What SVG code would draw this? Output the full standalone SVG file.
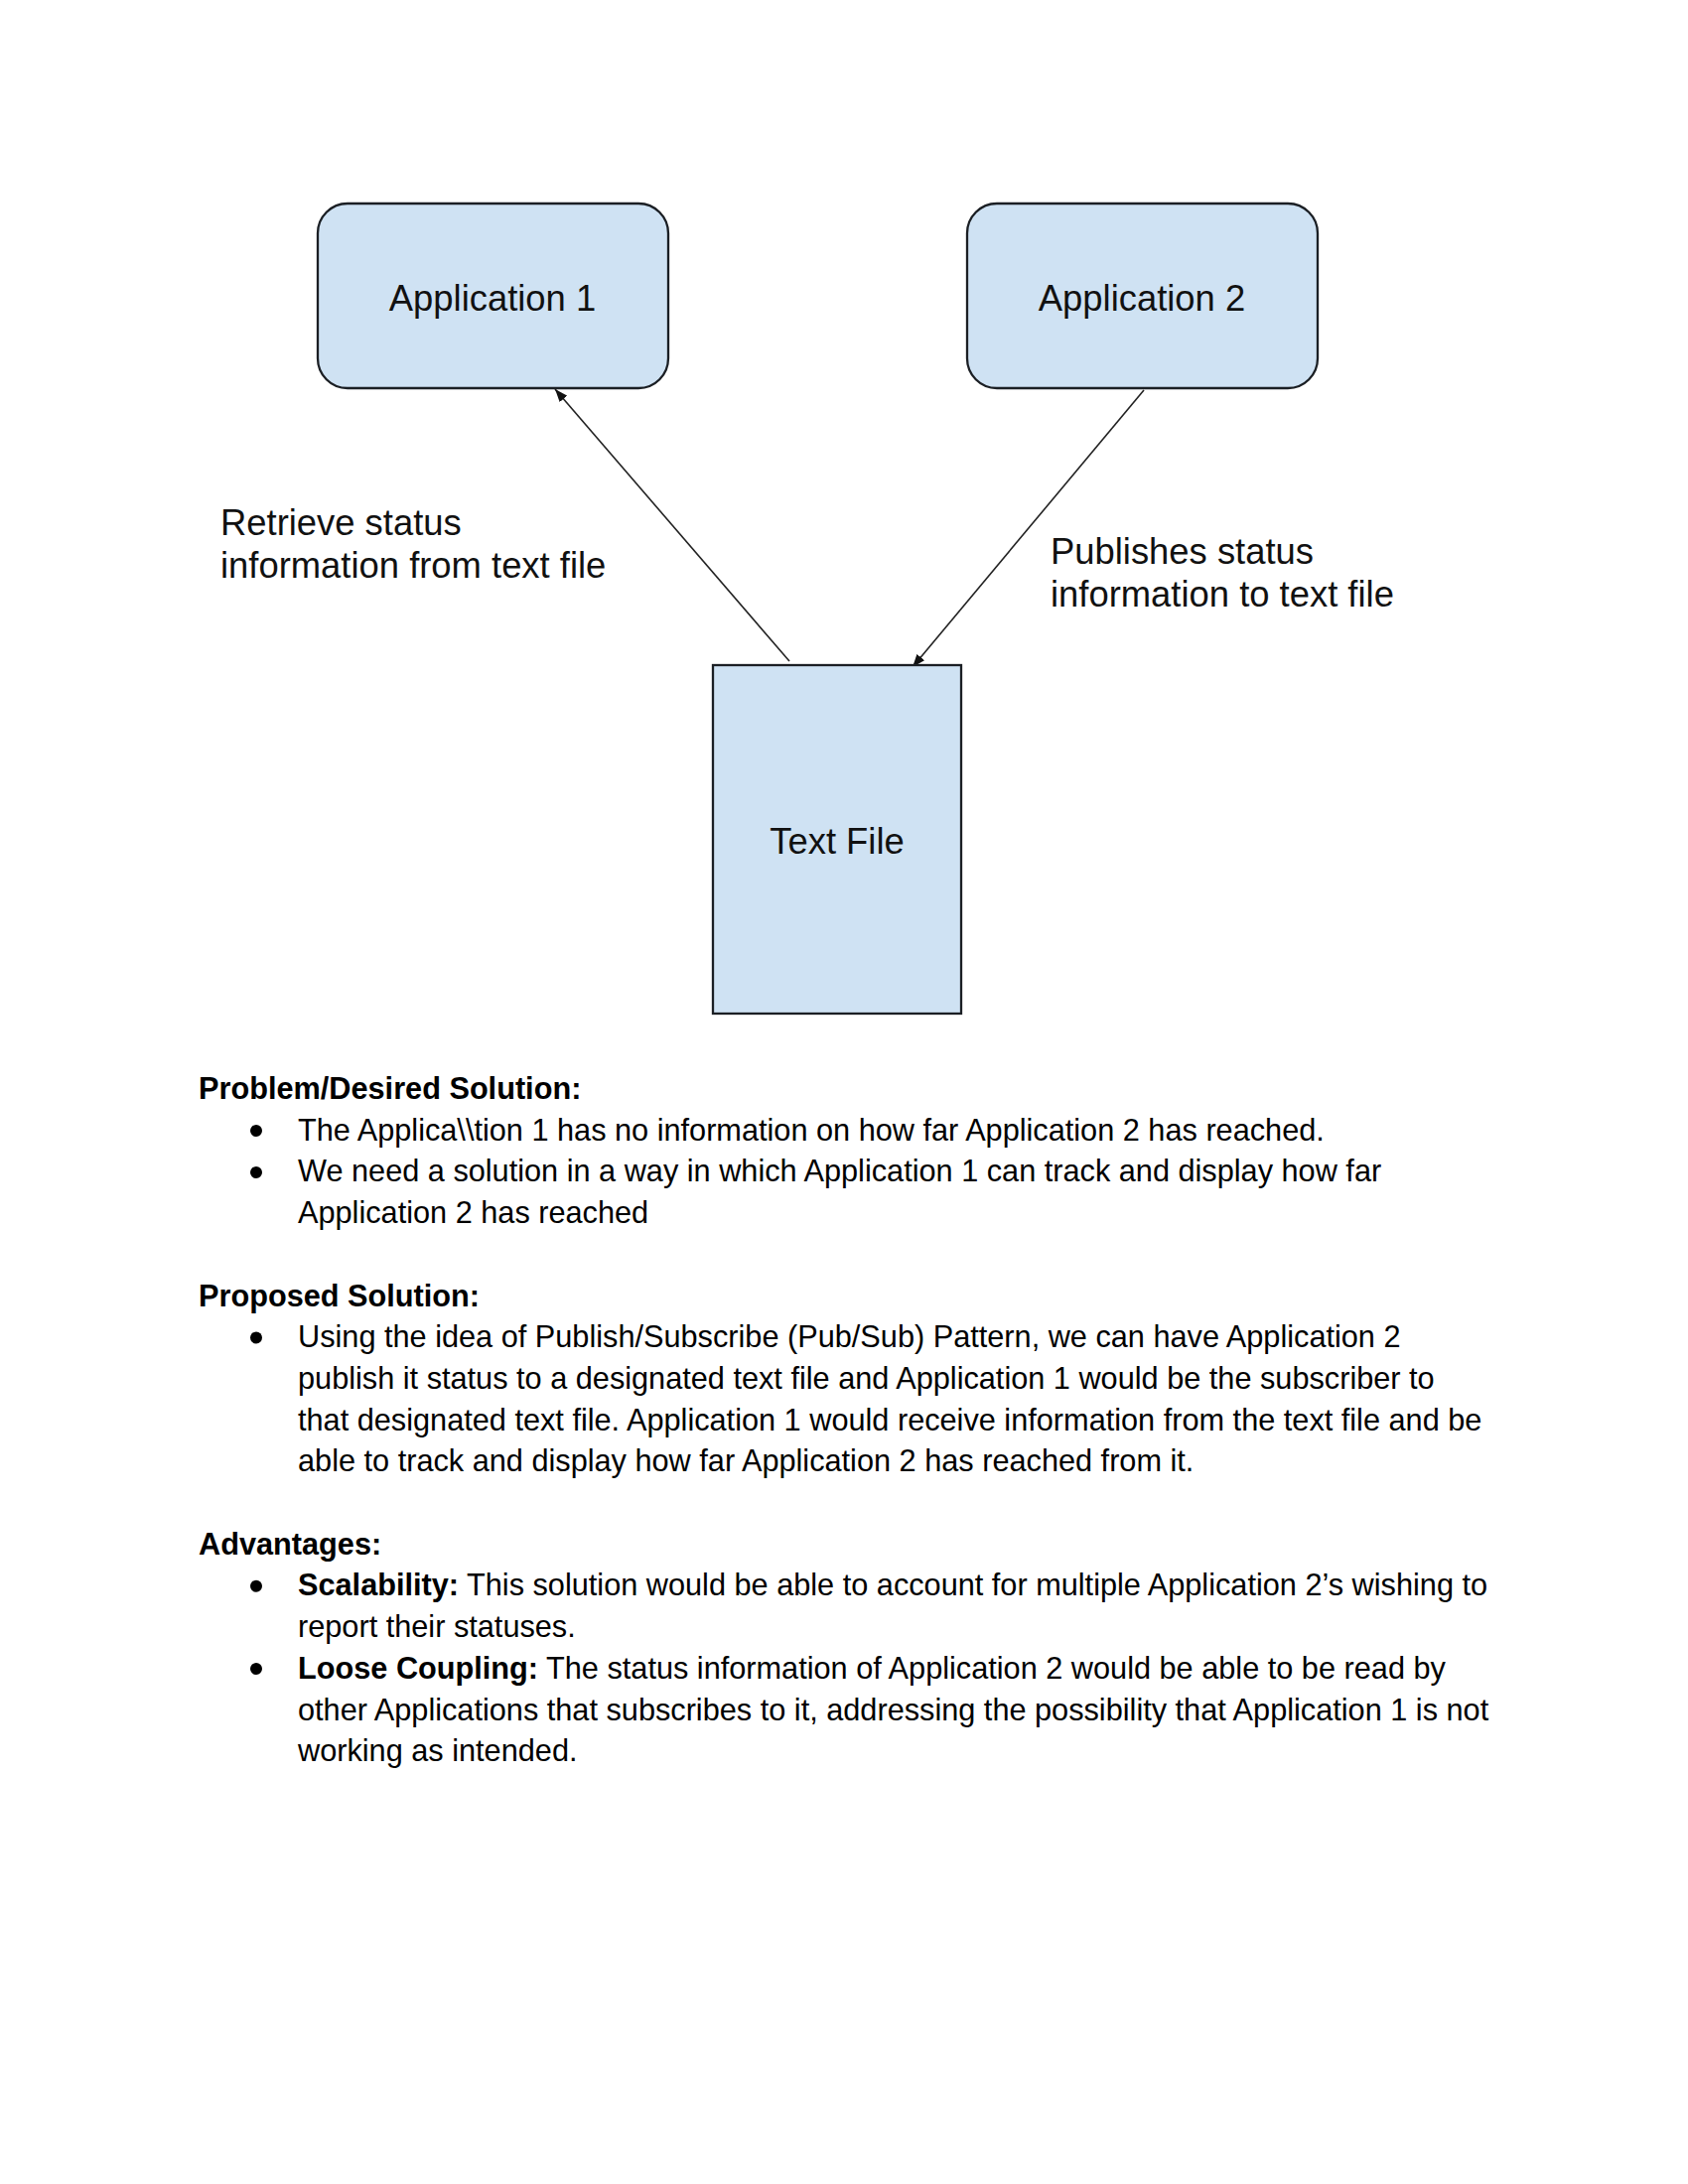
<svg xmlns="http://www.w3.org/2000/svg" width="1700" height="2200" viewBox="0 0 1700 2200">
<style>
.node{fill:#cfe2f3;stroke:#1b1f24;stroke-width:2.3}
.lbl{font-family:"Liberation Sans",Arial,sans-serif;font-size:36.4px;fill:#111}
.mid{text-anchor:middle}
.conn{stroke:#222;stroke-width:1.6;fill:none;marker-end:url(#arr)}
.body{font-family:"Liberation Sans",Arial,sans-serif;font-size:30.7px;fill:#000}
.b{font-weight:bold}
.dot{fill:#000}
</style>
<defs>
<marker id="arr" markerUnits="userSpaceOnUse" markerWidth="14" markerHeight="10" refX="13" refY="5" orient="auto">
<path d="M0,0 L13,5 L0,10 z" fill="#111"/>
</marker>
</defs>
<rect width="1700" height="2200" fill="#fff"/>
<g id="connectors">
<line class="conn" x1="795" y1="666" x2="559" y2="392"/>
<line class="conn" x1="1152" y1="393" x2="919" y2="672"/>
<text class="lbl" x="222" y="539">Retrieve status</text>
<text class="lbl" x="222" y="582">information from text file</text>
<text class="lbl" x="1058" y="568">Publishes status</text>
<text class="lbl" x="1058" y="611">information to text file</text>
</g>
<g id="app1">
<rect class="node" x="320" y="205" width="353" height="186" rx="30" ry="30"/>
<text class="lbl mid" x="496" y="313">Application 1</text>
</g>
<g id="app2">
<rect class="node" x="974" y="205" width="353" height="186" rx="30" ry="30"/>
<text class="lbl mid" x="1150" y="313">Application 2</text>
</g>
<g id="textfile">
<rect class="node" x="718" y="670" width="250" height="351"/>
<text class="lbl mid" x="843" y="860">Text File</text>
</g>
<g id="document">
<text class="body b" x="200" y="1107">Problem/Desired Solution:</text>
<circle class="dot" cx="258" cy="1139" r="6"/>
<text class="body" x="300" y="1148.7">The Applica\\tion 1 has no information on how far Application 2 has reached.</text>
<circle class="dot" cx="258" cy="1181" r="6"/>
<text class="body" x="300" y="1190.4">We need a solution in a way in which Application 1 can track and display how far</text>
<text class="body" x="300" y="1232.1">Application 2 has reached</text>
<text class="body b" x="200" y="1315.5">Proposed Solution:</text>
<circle class="dot" cx="258" cy="1347.5" r="6"/>
<text class="body" x="300" y="1357.2">Using the idea of Publish/Subscribe (Pub/Sub) Pattern, we can have Application 2</text>
<text class="body" x="300" y="1398.9">publish it status to a designated text file and Application 1 would be the subscriber to</text>
<text class="body" x="300" y="1440.6">that designated text file. Application 1 would receive information from the text file and be</text>
<text class="body" x="300" y="1482.3">able to track and display how far Application 2 has reached from it.</text>
<text class="body b" x="200" y="1565.7">Advantages:</text>
<circle class="dot" cx="258" cy="1597.7" r="6"/>
<text class="body" x="300" y="1607.4"><tspan class="b">Scalability:</tspan> This solution would be able to account for multiple Application 2’s wishing to</text>
<text class="body" x="300" y="1649.1">report their statuses.</text>
<circle class="dot" cx="258" cy="1681.1" r="6"/>
<text class="body" x="300" y="1690.8"><tspan class="b">Loose Coupling:</tspan> The status information of Application 2 would be able to be read by</text>
<text class="body" x="300" y="1732.5">other Applications that subscribes to it, addressing the possibility that Application 1 is not</text>
<text class="body" x="300" y="1774.2">working as intended.</text>
</g>
</svg>
